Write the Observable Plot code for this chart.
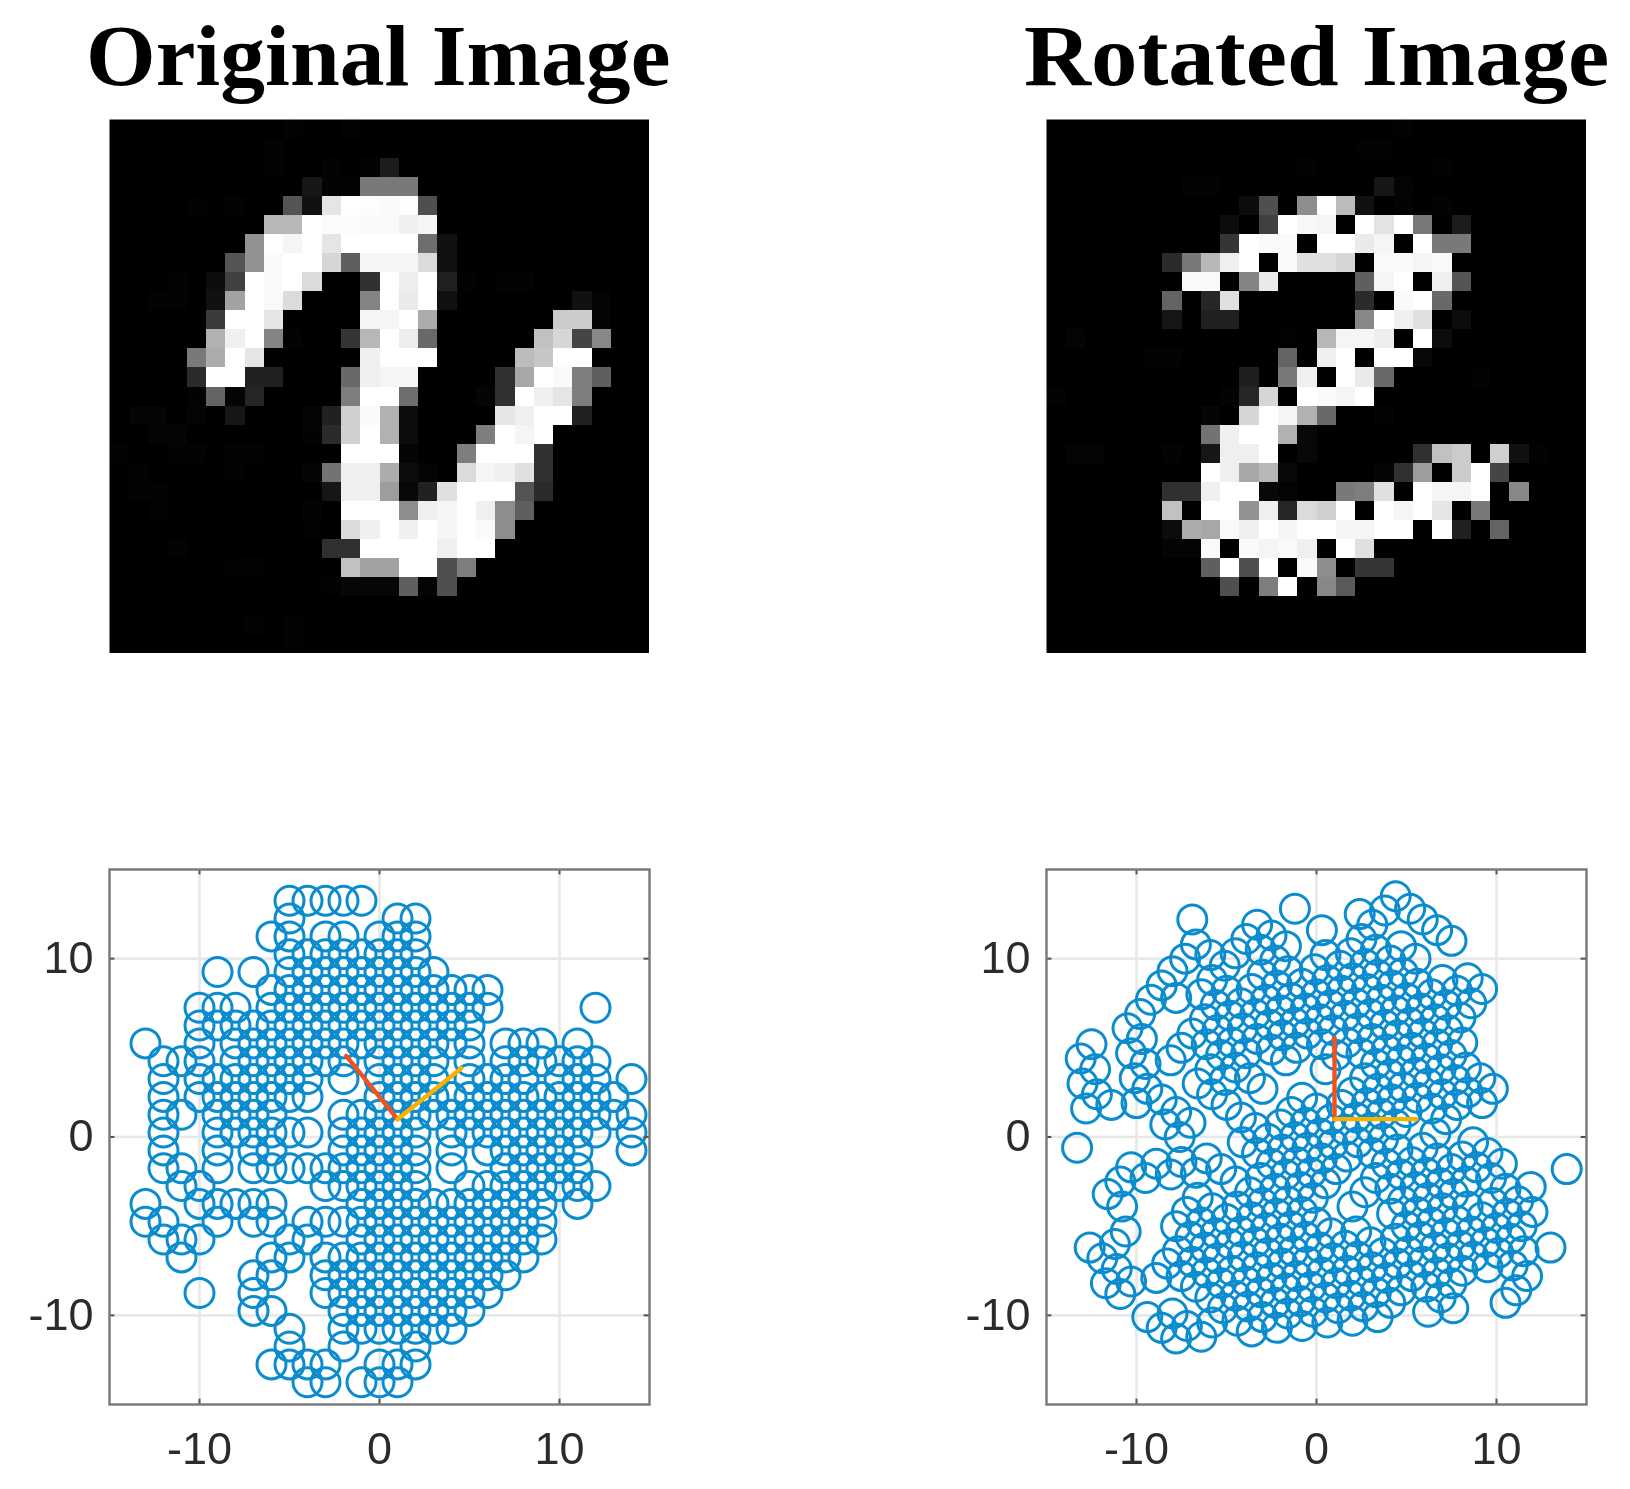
<!DOCTYPE html>
<html><head><meta charset="utf-8">
<script src="https://cdn.jsdelivr.net/npm/d3@7"></script>
<script src="https://cdn.jsdelivr.net/npm/@observablehq/plot@0.6"></script>
<style>
html,body{margin:0;padding:0;background:#fff;width:1630px;height:1489px;overflow:hidden}
#root{position:relative;width:1630px;height:1489px}
#root>svg,#root>figure{position:absolute;margin:0}
.t{position:absolute;white-space:nowrap;font:bold 86px/1 "Liberation Serif",serif;color:#000;filter:blur(.5px);transform-origin:0 0}
</style></head><body><div id="root"></div>
<script>
const titles=["Original Image","Rotated Image"];
const axisTicks=[-10,0,10];
const originalRows=[
[[9,3],[12,3]],
[[8,5]],
[[8,5],[11,5],[13,5],[14,35]],
[[10,30],[11,5],[12,5],[13,125],[14,125],[15,125]],
[[4,3],[6,5],[9,90],[10,25],[11,230],[12,255],[13,253],[14,250],[15,253],[16,85]],
[[8,185],[9,185],[10,255],[11,252],[12,252],[13,250],[14,250],[15,240],[16,245]],
[[7,150],[8,255],[9,245],[10,255],[11,230],[12,255],[13,255],[14,255],[15,255],[16,115],[17,25]],
[[6,90],[7,150],[8,250],[9,255],[10,255],[11,215],[12,100],[13,245],[14,245],[15,245],[16,220],[17,25]],
[[3,5],[5,20],[6,70],[7,255],[8,250],[9,255],[10,220],[13,55],[14,255],[15,238],[16,255],[17,40],[18,5],[20,5],[21,5]],
[[2,5],[3,5],[5,25],[6,165],[7,255],[8,250],[9,220],[13,135],[14,255],[15,235],[16,255],[17,25],[24,25],[25,8]],
[[5,65],[6,255],[7,255],[8,230],[13,245],[14,245],[15,255],[16,175],[23,205],[24,205],[25,8]],
[[5,180],[6,240],[7,255],[8,135],[9,5],[12,60],[13,185],[14,255],[15,238],[16,110],[22,195],[23,215],[24,75],[25,140]],
[[4,125],[5,175],[6,255],[7,230],[13,240],[14,255],[15,255],[16,255],[21,190],[22,200],[23,255],[24,255]],
[[4,50],[5,255],[6,255],[7,40],[8,40],[12,110],[13,240],[14,245],[15,245],[20,55],[21,170],[22,255],[23,250],[24,130],[25,100]],
[[4,5],[5,105],[6,8],[7,45],[12,130],[13,255],[14,255],[15,115],[19,10],[20,55],[21,255],[22,240],[23,230],[24,130]],
[[1,8],[2,8],[4,8],[6,30],[10,8],[11,40],[12,210],[13,250],[14,180],[15,20],[20,230],[21,240],[22,255],[23,255],[24,40]],
[[2,8],[3,8],[10,5],[11,50],[12,210],[13,255],[14,180],[15,20],[19,130],[20,255],[21,245],[22,255]],
[[0,5],[3,5],[4,5],[6,5],[7,5],[12,255],[13,255],[14,255],[15,10],[18,130],[19,255],[20,255],[21,255],[22,55]],
[[1,5],[6,3],[10,10],[11,120],[12,240],[13,240],[14,175],[15,20],[16,8],[18,220],[19,245],[20,240],[21,225],[22,55]],
[[1,5],[2,5],[11,30],[12,240],[13,240],[14,160],[15,15],[16,40],[17,225],[18,255],[19,255],[20,255],[21,90],[22,50]],
[[2,3],[10,5],[12,255],[13,255],[14,255],[15,145],[16,240],[17,245],[18,255],[19,240],[20,145],[21,100]],
[[10,3],[12,220],[13,240],[14,255],[15,240],[16,255],[17,245],[18,255],[19,250],[20,145]],
[[3,5],[11,55],[12,55],[13,255],[14,255],[15,255],[16,255],[17,240],[18,255],[19,255]],
[[6,3],[7,5],[12,195],[13,165],[14,165],[15,255],[16,255],[17,85],[18,130]],
[[11,3],[12,12],[13,12],[14,12],[15,100],[16,8],[17,85]],
[],
[[7,5],[9,3]],
[[9,3]]
];
const rotatedRows=[
[[18,3]],
[[16,3],[17,3]],
[[13,5],[20,5]],
[[7,5],[8,5],[17,30],[18,8]],
[[10,20],[11,85],[13,145],[14,255],[15,190],[16,25],[18,5],[20,5]],
[[9,20],[11,70],[12,255],[13,248],[14,245],[16,255],[17,228],[18,255],[19,125],[21,35]],
[[9,60],[10,255],[11,250],[12,250],[14,255],[15,255],[16,235],[17,245],[19,255],[20,125],[21,125]],
[[6,50],[7,125],[8,185],[9,240],[10,255],[12,250],[13,225],[14,225],[15,215],[17,250],[18,250],[19,245],[20,250]],
[[7,250],[8,250],[10,135],[11,235],[16,100],[17,245],[18,255],[20,240],[21,90]],
[[6,105],[8,45],[9,225],[16,50],[18,250],[19,255],[20,110]],
[[6,30],[8,40],[9,40],[16,140],[17,255],[18,240],[19,225],[21,20]],
[[1,8],[12,3],[14,185],[15,245],[16,245],[17,238],[19,255],[20,20]],
[[5,5],[6,5],[12,105],[14,240],[15,255],[17,255],[18,255],[19,15]],
[[10,38],[12,125],[13,240],[15,255],[16,235],[17,110],[22,5]],
[[0,5],[9,5],[10,45],[11,215],[13,255],[14,250],[15,245],[16,255]],
[[8,10],[10,215],[11,255],[12,245],[13,180],[14,110],[17,5]],
[[8,120],[9,240],[10,255],[11,255],[12,180],[13,15]],
[[1,8],[2,8],[6,5],[8,30],[9,240],[10,240],[11,255],[13,15],[19,55],[20,195],[21,205],[23,210],[24,25],[25,5]],
[[8,255],[9,240],[10,170],[11,185],[12,15],[17,10],[18,55],[19,160],[21,205],[22,255],[23,75]],
[[6,55],[7,55],[8,240],[9,255],[10,255],[11,15],[12,8],[15,125],[16,130],[17,225],[19,255],[20,245],[21,245],[22,255],[24,140]],
[[6,195],[8,255],[9,255],[10,150],[11,240],[12,45],[13,220],[14,210],[15,255],[17,255],[18,245],[19,255],[20,230],[22,125]],
[[6,20],[7,175],[8,170],[9,250],[10,240],[11,255],[12,245],[13,255],[14,255],[15,245],[16,245],[17,255],[18,255],[20,255],[21,40],[23,105]],
[[6,8],[7,8],[8,250],[10,250],[11,245],[12,250],[13,240],[15,255],[16,225]],
[[8,100],[9,255],[10,85],[11,255],[13,250],[14,145],[16,60],[17,60]],
[[9,85],[11,130],[12,255],[14,140],[15,95]],
[],[],[]
];
const leftRowY=[13.25,12.25,11.25,10.25,9.25,8.25,7.25,6.25,5.25,4.25,3.25,2.25,1.25,0.25,-0.75,-1.75,-2.75,-3.75,-4.75,-5.75,-6.75,-7.75,-8.75,-9.75,-10.75,-11.75,-12.75,-13.75];
const leftRowX=[
[-5,-4,-3,-2,-1],
[-5,1,2],
[-6,-5,-3,-2,0,1,2],
[-5,-4,-3,-2,-1,0,1,2],
[-9,-7,-5,-4,-3,-2,-1,0,1,2,3],
[-6,-5,-4,-3,-2,-1,0,1,2,3,4,5,6],
[-10,-9,-8,-6,-5,-4,-3,-2,-1,0,1,2,3,4,5,6,12],
[-10,-9,-8,-7,-6,-5,-4,-3,-2,-1,0,1,2,3,4,5],
[-13,-10,-8,-7,-6,-5,-4,-3,-2,-1,0,1,2,3,4,5,7,8,9,11],
[-12,-11,-10,-8,-7,-6,-5,-4,-3,-2,0,1,2,3,5,7,8,9,10,11,12],
[-12,-10,-9,-8,-7,-6,-5,-4,-2,0,1,2,3,5,6,7,8,10,11,12,14],
[-12,-10,-9,-8,-7,-6,-5,-4,0,1,2,3,4,5,6,7,8,9,10,11,12,13],
[-12,-11,-9,-8,-7,-6,-2,-1,0,1,2,3,4,5,6,7,8,9,10,11,12,13,14],
[-12,-9,-8,-7,-6,-5,-4,-2,-1,0,1,2,4,5,6,7,8,9,10,11,12,14],
[-12,-9,-7,-6,-2,-1,0,1,2,4,6,7,8,9,10,11,14],
[-12,-11,-9,-7,-6,-5,-4,-3,-2,-1,0,1,2,4,7,8,9,10,11],
[-11,-10,-3,-2,-1,0,1,2,5,6,7,8,9,10,11,12],
[-13,-10,-9,-8,-7,-6,-1,0,1,2,3,4,5,6,7,8,9,11],
[-13,-12,-9,-7,-6,-4,-3,-2,-1,0,1,2,3,4,5,6,7,8,9],
[-12,-11,-10,-5,-4,-1,0,1,2,3,4,5,6,7,8,9],
[-11,-6,-5,-3,-2,-1,0,1,2,3,4,5,6,7,8],
[-7,-6,-3,-2,-1,0,1,2,3,4,5,6,7],
[-10,-7,-3,-2,-1,0,1,2,3,4,5,6],
[-7,-6,-2,-1,0,1,2,3,4,5],
[-5,-2,-1,0,1,2,3,4],
[-5,-2,2],
[-6,-5,-4,-3,0,1,2],
[-4,-3,-1,0,1]
];
const rightRowX=[
[4.4,5.2,5.9,6.7,7.5],
[3.8,8.4,9.2],
[2.4,3.1,4.7,5.5,7.0,7.8,8.6],
[2.5,3.3,4.1,4.8,5.6,6.4,7.2,8.0],
[-1.2,0.3,1.9,2.7,3.4,4.2,5.0,5.8,6.6,7.3,8.1],
[0.5,1.3,2.0,2.8,3.6,4.4,5.2,5.9,6.7,7.5,8.3,9.1,9.8],
[-3.3,-2.5,-1.7,-0.1,0.6,1.4,2.2,3.0,3.8,4.5,5.3,6.1,6.9,7.7,8.4,9.2,13.9],
[-3.9,-3.1,-2.3,-1.6,-0.8,0.0,0.8,1.6,2.3,3.1,3.9,4.7,5.5,6.2,7.0,7.8],
[-6.9,-4.5,-3.0,-2.2,-1.4,-0.6,0.2,0.9,1.7,2.5,3.3,4.1,4.8,5.6,6.4,7.2,8.7,9.5,10.3,11.9],
[-6.7,-5.9,-5.1,-3.6,-2.8,-2.0,-1.2,-0.5,0.3,1.1,2.7,3.4,4.2,5.0,6.6,8.1,8.9,9.7,10.5,11.2,12.0],
[-7.3,-5.8,-5.0,-4.2,-3.4,-2.6,-1.9,-1.1,0.5,2.0,2.8,3.6,4.4,5.9,6.7,7.5,8.3,9.8,10.6,11.4,13.0],
[-8.0,-6.4,-5.6,-4.8,-4.1,-3.3,-2.5,-1.7,1.4,2.2,3.0,3.7,4.5,5.3,6.1,6.9,7.6,8.4,9.2,10.0,10.8,11.5],
[-8.6,-7.8,-6.2,-5.5,-4.7,-3.9,-0.8,0.0,0.8,1.6,2.3,3.1,3.9,4.7,5.5,6.2,7.0,7.8,8.6,9.4,10.1,10.9,11.7],
[-9.2,-6.9,-6.1,-5.3,-4.5,-3.7,-3.0,-1.4,-0.6,0.2,0.9,1.7,3.3,4.1,4.8,5.6,6.4,7.2,8.0,8.7,9.5,11.1],
[-9.8,-7.5,-5.9,-5.1,-2.0,-1.2,-0.5,0.3,1.1,2.7,4.2,5.0,5.8,6.6,7.3,8.1,10.5],
[-10.5,-9.7,-8.1,-6.6,-5.8,-5.0,-4.2,-3.4,-2.7,-1.9,-1.1,-0.3,0.5,2.0,4.4,5.1,5.9,6.7,7.5],
[-10.3,-9.5,-4.1,-3.3,-2.5,-1.7,-0.9,-0.2,2.2,3.0,3.7,4.5,5.3,6.1,6.9,7.6],
[-12.5,-10.1,-9.4,-8.6,-7.8,-7.0,-3.1,-2.3,-1.6,-0.8,0.0,0.8,1.6,2.3,3.1,3.9,4.7,6.2],
[-13.1,-12.3,-10.0,-8.4,-7.6,-6.1,-5.3,-4.5,-3.7,-3.0,-2.2,-1.4,-0.6,0.2,0.9,1.7,2.5,3.3,4.1],
[-13.0,-12.2,-11.4,-7.5,-6.7,-4.4,-3.6,-2.8,-2.0,-1.3,-0.5,0.3,1.1,1.9,2.6,3.4],
[-12.8,-8.9,-8.1,-6.6,-5.8,-5.0,-4.2,-3.4,-2.7,-1.9,-1.1,-0.3,0.5,1.2,2.0],
[-10.3,-9.5,-7.2,-6.4,-5.6,-4.8,-4.1,-3.3,-2.5,-1.7,-0.9,-0.2,0.6],
[-13.3,-10.9,-7.8,-7.0,-6.2,-5.5,-4.7,-3.9,-3.1,-2.3,-1.6,-0.8],
[-11.6,-10.8,-7.7,-6.9,-6.1,-5.3,-4.5,-3.8,-3.0,-2.2],
[-10.6,-8.3,-7.5,-6.7,-5.9,-5.2,-4.4,-3.6],
[-11.2,-8.9,-5.8],
[-12.6,-11.9,-11.1,-10.3,-8.0,-7.2,-6.4],
[-11.7,-10.9,-9.4,-8.6,-7.8]
];
const rightRowY=[
[13.5,12.8,12.2,11.6,11.0],
[12.7,8.9,8.3],
[12.5,11.9,10.7,10.0,8.8,8.2,7.5],
[11.1,10.5,9.9,9.2,8.6,8.0,7.4,6.7],
[12.8,11.6,10.3,9.7,9.1,8.5,7.8,7.2,6.6,6.0,5.3],
[10.2,9.6,8.9,8.3,7.7,7.1,6.4,5.8,5.2,4.6,3.9,3.3,2.7],
[11.9,11.3,10.7,9.4,8.8,8.2,7.5,6.9,6.3,5.7,5.0,4.4,3.8,3.2,2.5,1.9,-1.8],
[11.1,10.5,9.9,9.3,8.6,8.0,7.4,6.8,6.1,5.5,4.9,4.3,3.6,3.0,2.4,1.8],
[12.2,10.3,9.1,8.5,7.8,7.2,6.6,6.0,5.3,4.7,4.1,3.5,2.8,2.2,1.6,1.0,-0.3,-0.9,-1.5,-2.8],
[10.8,10.2,9.6,8.3,7.7,7.1,6.4,5.8,5.2,4.6,3.3,2.7,2.1,1.4,0.2,-1.1,-1.7,-2.3,-2.9,-3.6,-4.2],
[10.0,8.8,8.2,7.5,6.9,6.3,5.7,5.0,3.8,2.5,1.9,1.3,0.7,-0.6,-1.2,-1.8,-2.5,-3.7,-4.3,-5.0,-6.2],
[9.3,8.0,7.4,6.8,6.1,5.5,4.9,4.3,1.8,1.1,0.5,-0.1,-0.7,-1.4,-2.0,-2.6,-3.2,-3.9,-4.5,-5.1,-5.7,-6.4],
[8.5,7.8,6.6,6.0,5.3,4.7,2.2,1.6,1.0,0.4,-0.3,-0.9,-1.5,-2.1,-2.8,-3.4,-4.0,-4.7,-5.3,-5.9,-6.5,-7.2,-7.8],
[7.7,5.8,5.2,4.6,3.9,3.3,2.7,1.4,0.8,0.2,-0.4,-1.1,-2.3,-2.9,-3.6,-4.2,-4.8,-5.4,-6.1,-6.7,-7.3,-8.6],
[6.9,5.0,3.8,3.2,0.7,0.0,-0.6,-1.2,-1.8,-3.1,-4.3,-5.0,-5.6,-6.2,-6.8,-7.5,-9.3],
[6.1,5.5,4.3,3.0,2.4,1.8,1.1,0.5,-0.1,-0.7,-1.4,-2.0,-2.6,-3.9,-5.7,-6.4,-7.0,-7.6,-8.2],
[4.7,4.1,-0.3,-0.9,-1.5,-2.1,-2.8,-3.4,-5.3,-5.9,-6.5,-7.1,-7.8,-8.4,-9.0,-9.6],
[5.2,3.3,2.7,2.1,1.4,0.8,-2.3,-2.9,-3.6,-4.2,-4.8,-5.4,-6.1,-6.7,-7.3,-7.9,-8.6,-9.8],
[4.4,3.8,1.9,0.7,0.0,-1.2,-1.8,-2.5,-3.1,-3.7,-4.3,-5.0,-5.6,-6.2,-6.8,-7.5,-8.1,-8.7,-9.3],
[3.0,2.4,1.8,-1.4,-2.0,-3.9,-4.5,-5.1,-5.7,-6.4,-7.0,-7.6,-8.2,-8.9,-9.5,-10.1],
[1.6,-1.5,-2.1,-3.4,-4.0,-4.6,-5.3,-5.9,-6.5,-7.1,-7.8,-8.4,-9.0,-9.6,-10.3],
[-1.7,-2.3,-4.2,-4.8,-5.4,-6.0,-6.7,-7.3,-7.9,-8.5,-9.2,-9.8,-10.4],
[-0.6,-2.5,-5.0,-5.6,-6.2,-6.8,-7.5,-8.1,-8.7,-9.3,-9.9,-10.6],
[-3.2,-3.9,-6.4,-7.0,-7.6,-8.2,-8.9,-9.5,-10.1,-10.7],
[-5.3,-7.1,-7.8,-8.4,-9.0,-9.6,-10.3,-10.9],
[-6.0,-7.9,-10.4],
[-6.2,-6.8,-7.4,-8.1,-9.9,-10.6,-11.2],
[-8.2,-8.8,-10.1,-10.7,-11.3]
];
const leftArrows=[[-1.85,4.55,"#f4511a"],[4.55,3.85,"#f8b100"]];
const rightArrows=[[1,5.55,"#f4511a"],[5.55,1,"#f8b100"]];
const arrowBase=[1,1];

const root=document.getElementById("root");
const blur={filter:"blur(.55px)",background:"transparent"};
function image(rows,left){
  const flat=[];
  rows.forEach(r=>{const a=new Array(28).fill(0);r.forEach(([c,v])=>a[c]=v);flat.push(...a);});
  const p=Plot.plot({width:540,height:534,margin:0,
    x:{domain:[0,28],axis:null},y:{domain:[28,0],axis:null},
    color:{type:"linear",domain:[0,16,255],range:["#000","#080808","#fff"]},
    style:blur,
    marks:[Plot.raster(flat,{width:28,height:28,x1:0,y1:0,x2:28,y2:28,fill:d=>d,imageRendering:"pixelated"})]});
  p.style.left=left+"px";p.style.top="119px";root.append(p);
}
function scatter(pts,arrows,left){
  const gridC="#e8e8e8",ax="#777";
  const p=Plot.plot({width:660,height:621,marginLeft:100,marginRight:20,marginTop:6,marginBottom:80,
    x:{domain:[-15,15],axis:null},y:{domain:[-15,15],axis:null},
    style:blur,
    marks:[
      Plot.ruleX(axisTicks,{x:d=>d,stroke:gridC,strokeWidth:2.6}),
      Plot.ruleY(axisTicks,{y:d=>d,stroke:gridC,strokeWidth:2.6}),
      Plot.dot(pts,{x:"x",y:"y",r:14.5,stroke:"#0a8cce",strokeWidth:3,fill:"none",clip:true}),
      ...arrows.map(a=>Plot.link([a],{x1:()=>arrowBase[0],y1:()=>arrowBase[1],x2:d=>d[0],y2:d=>d[1],stroke:d=>d[2],strokeWidth:4.4,strokeLinecap:"round"})),
      Plot.ruleX(axisTicks,{x:d=>d,y1:-15,y2:-14.7,stroke:"#555",strokeWidth:2}),
      Plot.ruleX(axisTicks,{x:d=>d,y1:14.7,y2:15,stroke:"#555",strokeWidth:2}),
      Plot.ruleY(axisTicks,{y:d=>d,x1:-15,x2:-14.7,stroke:"#555",strokeWidth:2}),
      Plot.ruleY(axisTicks,{y:d=>d,x1:14.7,x2:15,stroke:"#555",strokeWidth:2}),
      Plot.frame({stroke:ax,strokeWidth:2.4}),
      Plot.axisX(axisTicks,{anchor:"bottom",tickSize:0,tickPadding:28,fontSize:45,fontFamily:"Liberation Sans",fill:"#2b2b2b",label:null,tickFormat:d=>String(d)}),
      Plot.axisY(axisTicks,{anchor:"left",tickSize:0,tickPadding:16,fontSize:45,fontFamily:"Liberation Sans",fill:"#2b2b2b",label:null,tickFormat:d=>String(d)})
    ]});
  p.style.left=(left-100)+"px";p.style.top="862.6px";root.append(p);
}
titles.forEach((t,i)=>{const d=document.createElement("div");d.className="t";d.textContent=t;d.style.left=[86,1024][i]+"px";d.style.top="13px";root.append(d);
  d.style.transform="scaleX("+([584,585][i]/d.offsetWidth)+")";});
image(originalRows,109.4);
image(rotatedRows,1046.4);
const leftPts=[];leftRowY.forEach((y,i)=>leftRowX[i].forEach(x=>leftPts.push({x,y})));
const rightPts=[];rightRowX.forEach((r,i)=>r.forEach((x,j)=>rightPts.push({x,y:rightRowY[i][j]})));
scatter(leftPts,leftArrows,109.4);
scatter(rightPts,rightArrows,1046.4);
</script></body></html>
